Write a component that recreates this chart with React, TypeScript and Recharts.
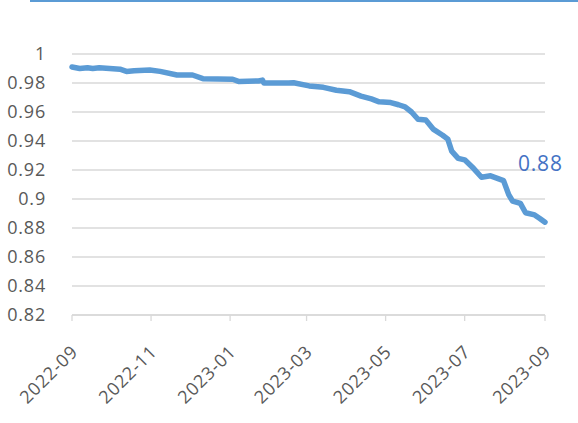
import { LineChart, Line, XAxis, YAxis, CartesianGrid } from 'recharts';

const dates = [
  '2022-09-01', '2022-09-07', '2022-09-13', '2022-09-17', '2022-09-22', '2022-09-30',
  '2022-10-08', '2022-10-13', '2022-10-19', '2022-10-31', '2022-11-08', '2022-11-21',
  '2022-12-03', '2022-12-11', '2023-01-03', '2023-01-08', '2023-01-23', '2023-01-26',
  '2023-01-27', '2023-02-15', '2023-02-19', '2023-03-03', '2023-03-14', '2023-03-24',
  '2023-04-03', '2023-04-12', '2023-04-20', '2023-04-26', '2023-05-05', '2023-05-11',
  '2023-05-16', '2023-05-21', '2023-05-26', '2023-06-01', '2023-06-07', '2023-06-14',
  '2023-06-18', '2023-06-21', '2023-06-26', '2023-07-01', '2023-07-08', '2023-07-14',
  '2023-07-21', '2023-07-31', '2023-08-04', '2023-08-07', '2023-08-13', '2023-08-17',
  '2023-08-24', '2023-08-28', '2023-09-01',
];

const values = [
  0.991, 0.990, 0.9905, 0.990, 0.9905, 0.990,
  0.9895, 0.988, 0.9885, 0.989, 0.988, 0.9855,
  0.9855, 0.983, 0.9826, 0.981, 0.9814, 0.982,
  0.980, 0.980, 0.9802, 0.978, 0.977, 0.975,
  0.974, 0.971, 0.969, 0.967, 0.9665, 0.965,
  0.9636, 0.960, 0.955, 0.9545, 0.948, 0.944,
  0.9413, 0.933, 0.928, 0.927, 0.921, 0.915,
  0.916, 0.9127, 0.903, 0.8985, 0.897, 0.8905,
  0.889, 0.8866, 0.884,
];

const tickMonths = ['2022-09', '2022-11', '2023-01', '2023-03', '2023-05', '2023-07', '2023-09'];
const yTicks = [0.82, 0.84, 0.86, 0.88, 0.9, 0.92, 0.94, 0.96, 0.98, 1];
const lastLabel = '0.88';

const toTime = (s: string) => Date.parse(s + 'T00:00:00Z');

const data = dates.map((d, i) => ({ t: toTime(d), v: values[i] }));
const xTicks = tickMonths.map((m) => toTime(m + '-01'));

const fmtMonth = (t: number) => {
  const d = new Date(t);
  return `${d.getUTCFullYear()}-${String(d.getUTCMonth() + 1).padStart(2, '0')}`;
};

const font = "'Open Sans', sans-serif";

const XTick = (props: any) => {
  const { x, y, payload } = props;
  const ax = x + 7;
  const ay = y + 30;
  return (
    <text
      x={ax}
      y={ay}
      transform={`rotate(-45 ${ax} ${ay})`}
      textAnchor="end"
      fill="#595959"
      fontSize={18}
      fontFamily={font}
      letterSpacing={0.8}
    >
      {fmtMonth(payload.value)}
    </text>
  );
};

const EndLabel = (props: any) => {
  const { x, y, index } = props;
  if (index !== data.length - 1) return null;
  return (
    <text x={x - 27} y={y - 51} fill="#4472C4" fontSize={21} fontFamily={font} letterSpacing={0.8}>
      {lastLabel}
    </text>
  );
};

export default function App() {
  return (
    <div style={{ position: 'absolute', left: 0, top: 0, width: 578, height: 423, background: '#fff' }}>
      <div style={{ position: 'absolute', left: 30, top: 0, width: 548, height: 2, background: '#5B9BD5' }} />
      <LineChart width={578} height={423} data={data} margin={{ top: 54, right: 33, bottom: 0, left: 0 }}>
        <CartesianGrid vertical={false} stroke="#D9D9D9" strokeWidth={1.3} />
        <XAxis
          dataKey="t"
          type="number"
          scale="time"
          domain={[xTicks[0], xTicks[xTicks.length - 1]]}
          ticks={xTicks}
          interval={0}
          height={108}
          stroke="#D9D9D9"
          strokeWidth={1.3}
          tickSize={6}
          tick={<XTick />}
        />
        <YAxis
          domain={[0.82, 1]}
          ticks={yTicks}
          width={72}
          axisLine={false}
          tickLine={false}
          tickMargin={20}
          tick={{ fill: '#595959', fontSize: 18, fontFamily: font, letterSpacing: 0.8 }}
        />
        <Line
          type="linear"
          dataKey="v"
          stroke="#5B9BD5"
          strokeWidth={5.5}
          strokeLinejoin="round"
          strokeLinecap="round"
          dot={false}
          isAnimationActive={false}
          label={<EndLabel />}
        />
      </LineChart>
    </div>
  );
}
